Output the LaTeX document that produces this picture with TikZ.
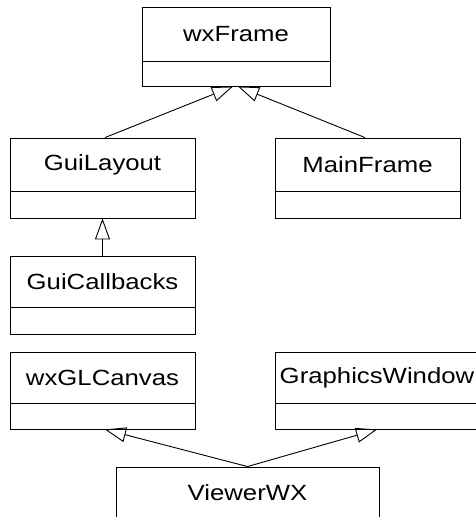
\documentclass[tikz,border=0pt]{standalone}
\usepackage{fontspec}
\usepackage{graphicx}
\setmainfont{Liberation Sans}
\usetikzlibrary{arrows.meta,fit}
\newcommand{\cn}[1]{\scalebox{1.17}[1]{#1}}
\tikzset{
  clsbox/.style={draw=black, line width=0.9pt, inner sep=0pt, rectangle},
  clsline/.style={draw=black, line width=0.9pt},
  clsname/.style={inner sep=0pt, font=\fontsize{22}{26}\selectfont},
  inh/.style={draw=black, line width=0.9pt, -{Triangle[open, length=21pt, width=15pt]}}
}
\newcommand{\umlbox}[7]{%
  \node[clsbox, fit={(#2,#4) (#3,#6)}] (#1) {};
  \draw[clsline] (#2,#5) -- (#3,#5);
  \node[clsname] (#1-name) at ({(#2+#3)/2},{(#4+#5)/2}) {\cn{#7}};
}
\begin{document}
\begin{tikzpicture}[x=1pt, y=-1pt]
  \useasboundingbox (0,0) rectangle (476,517);
  \clip (0,0) rectangle (476,517);
  \fill[white] (0,0) rectangle (476,517);
  \umlbox{wxf}{142}{330}{7}{61}{86}{wxFrame}
  \umlbox{gl}{10}{195}{138}{191}{218}{GuiLayout}
  \umlbox{mf}{275}{460}{138}{191}{218}{MainFrame}
  \umlbox{gc}{10}{195}{256}{307}{334}{GuiCallbacks}
  \umlbox{wgl}{10}{195}{352}{403}{429}{wxGLCanvas}
  \umlbox{gw}{275}{479}{352}{403}{429}{GraphicsWindow}
  \umlbox{vw}{116}{379}{467}{518}{546}{ViewerWX}
  \draw[inh] ([xshift=2.5pt]gl.north) -- ([xshift=-3pt]wxf.south);
  \draw[inh] ([xshift=-2.5pt]mf.north) -- ([xshift=2pt]wxf.south);
  \draw[inh] (gc.north) -- (gl.south);
  \draw[inh] (vw.north) -- ([xshift=2.5pt]wgl.south);
  \draw[inh] (vw.north) -- (gw.south);
\end{tikzpicture}
\end{document}
